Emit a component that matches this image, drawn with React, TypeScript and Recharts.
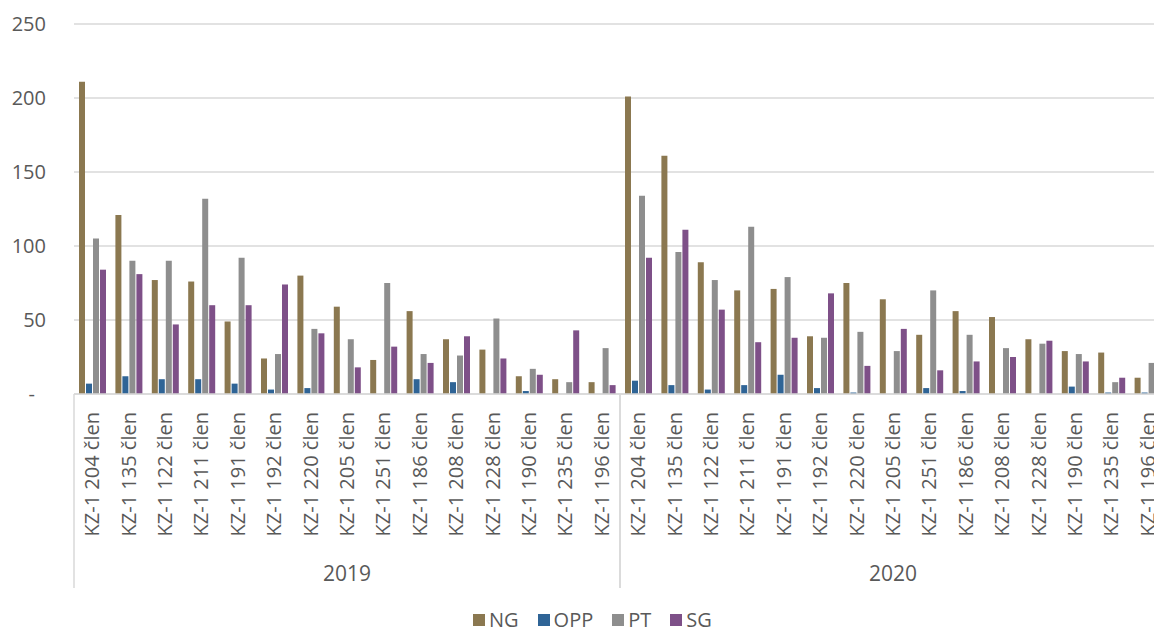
import React from "react";
import { BarChart, Bar, XAxis, YAxis, CartesianGrid, Legend } from "recharts";

const years = ["2019", "2020"];
const members = [
  "KZ-1 204 člen",
  "KZ-1 135 člen",
  "KZ-1 122 člen",
  "KZ-1 211 člen",
  "KZ-1 191 člen",
  "KZ-1 192 člen",
  "KZ-1 220 člen",
  "KZ-1 205 člen",
  "KZ-1 251 člen",
  "KZ-1 186 člen",
  "KZ-1 208 člen",
  "KZ-1 228 člen",
  "KZ-1 190 člen",
  "KZ-1 235 člen",
  "KZ-1 196 člen",
];

// values per category: first 15 = 2019, next 15 = 2020
const ng = [211, 121, 77, 76, 49, 24, 80, 59, 23, 56, 37, 30, 12, 10, 8, 201, 161, 89, 70, 71, 39, 75, 64, 40, 56, 52, 37, 29, 28, 11];
const opp = [7, 12, 10, 10, 7, 3, 4, 0, 0, 10, 8, 0, 2, 0, 0, 9, 6, 3, 6, 13, 4, 1, 0, 4, 2, 0, 0, 5, 1, 1];
const pt = [105, 90, 90, 132, 92, 27, 44, 37, 75, 27, 26, 51, 17, 8, 31, 134, 96, 77, 113, 79, 38, 42, 29, 70, 40, 31, 34, 27, 8, 21];
const sg = [84, 81, 47, 60, 60, 74, 41, 18, 32, 21, 39, 24, 13, 43, 6, 92, 111, 57, 35, 38, 68, 19, 44, 16, 22, 25, 36, 22, 11, 9];

const yTicks = [0, 50, 100, 150, 200, 250];

const SERIES = [
  { key: "NG", color: "#8B7850", values: ng },
  { key: "OPP", color: "#2F6496", values: opp },
  { key: "PT", color: "#8E8E8E", values: pt },
  { key: "SG", color: "#7E5088", values: sg },
];

const FONT = "'Open Sans', sans-serif";
const TEXT = "#595959";
const GRID = "#d9d9d9";

const CHART_W = 1200;
const CHART_H = 633;
const MARGIN = { top: 24, right: 34, bottom: 0, left: 0 };
const Y_W = 74;
const X_H = 239;
const GROUP = members.length;
const BAND = (CHART_W - MARGIN.left - MARGIN.right - Y_W) / (GROUP * years.length);

const data = years.flatMap((year, yi) =>
  members.map((m, mi) => {
    const row: Record<string, string | number> = { id: `${year}|${m}` };
    SERIES.forEach((s) => {
      row[s.key] = s.values[yi * GROUP + mi];
    });
    return row;
  })
);

function YTick(props: any) {
  const { x, y, payload } = props;
  const zero = payload.value === 0;
  return (
    <text
      x={zero ? x - 11 : x}
      y={y}
      dy="0.35em"
      textAnchor="end"
      fill={TEXT}
      fontSize={20}
      fontFamily={FONT}
    >
      {zero ? "-" : payload.value}
    </text>
  );
}

function XTick(props: any) {
  const { x, y, payload, index } = props;
  const [year, label] = String(payload.value).split("|");
  const pos = index % GROUP;
  return (
    <g>
      <text
        transform={`translate(${x},${y + 18}) rotate(-90)`}
        textAnchor="end"
        dy="0.35em"
        fill={TEXT}
        fontSize={20}
        fontFamily={FONT}
      >
        {label}
      </text>
      {pos === 0 && (
        <line x1={x - BAND / 2} x2={x - BAND / 2} y1={y} y2={y + 194} stroke={GRID} strokeWidth={1.5} />
      )}
      {pos === GROUP - 1 && (
        <line x1={x + BAND / 2} x2={x + BAND / 2} y1={y} y2={y + 194} stroke={GRID} strokeWidth={1.5} />
      )}
      {pos === Math.floor(GROUP / 2) && (
        <text x={x} y={y + 187} textAnchor="middle" fill={TEXT} fontSize={21} fontFamily={FONT}>
          {year}
        </text>
      )}
    </g>
  );
}

function LegendBox() {
  return (
    <div style={{ display: "flex", alignItems: "center", fontFamily: FONT, fontSize: 20, lineHeight: "24px", color: TEXT }}>
      {SERIES.map((s, i) => (
        <div key={s.key} style={{ display: "flex", alignItems: "center", marginLeft: i === 0 ? 0 : 19 }}>
          <span style={{ width: 12, height: 12, background: s.color, marginRight: 4, display: "inline-block" }} />
          <span>{s.key}</span>
        </div>
      ))}
    </div>
  );
}

export default function App() {
  return (
    <div
      style={{
        position: "fixed",
        left: 0,
        top: 0,
        width: 1154,
        height: 633,
        overflow: "hidden",
        background: "#fff",
      }}
    >
      <BarChart
        width={CHART_W}
        height={CHART_H}
        data={data}
        margin={MARGIN}
        barSize={6}
        barGap={1}
      >
        <CartesianGrid vertical={false} stroke={GRID} strokeWidth={1.5} />
        <XAxis
          dataKey="id"
          height={X_H}
          interval={0}
          tickLine={false}
          tickSize={0}
          tickMargin={0}
          axisLine={{ stroke: GRID, strokeWidth: 1.5 }}
          tick={<XTick />}
        />
        <YAxis
          width={Y_W}
          domain={[0, 250]}
          ticks={yTicks}
          axisLine={false}
          tickLine={false}
          tickSize={0}
          tickMargin={28}
          tick={<YTick />}
        />
        <Legend
          layout="horizontal"
          verticalAlign="middle"
          align="center"
          wrapperStyle={{ left: 473, top: 608, width: "auto", height: 24 }}
          content={() => <LegendBox />}
        />
        {SERIES.map((s) => (
          <Bar key={s.key} dataKey={s.key} fill={s.color} isAnimationActive={false} />
        ))}
      </BarChart>
    </div>
  );
}
